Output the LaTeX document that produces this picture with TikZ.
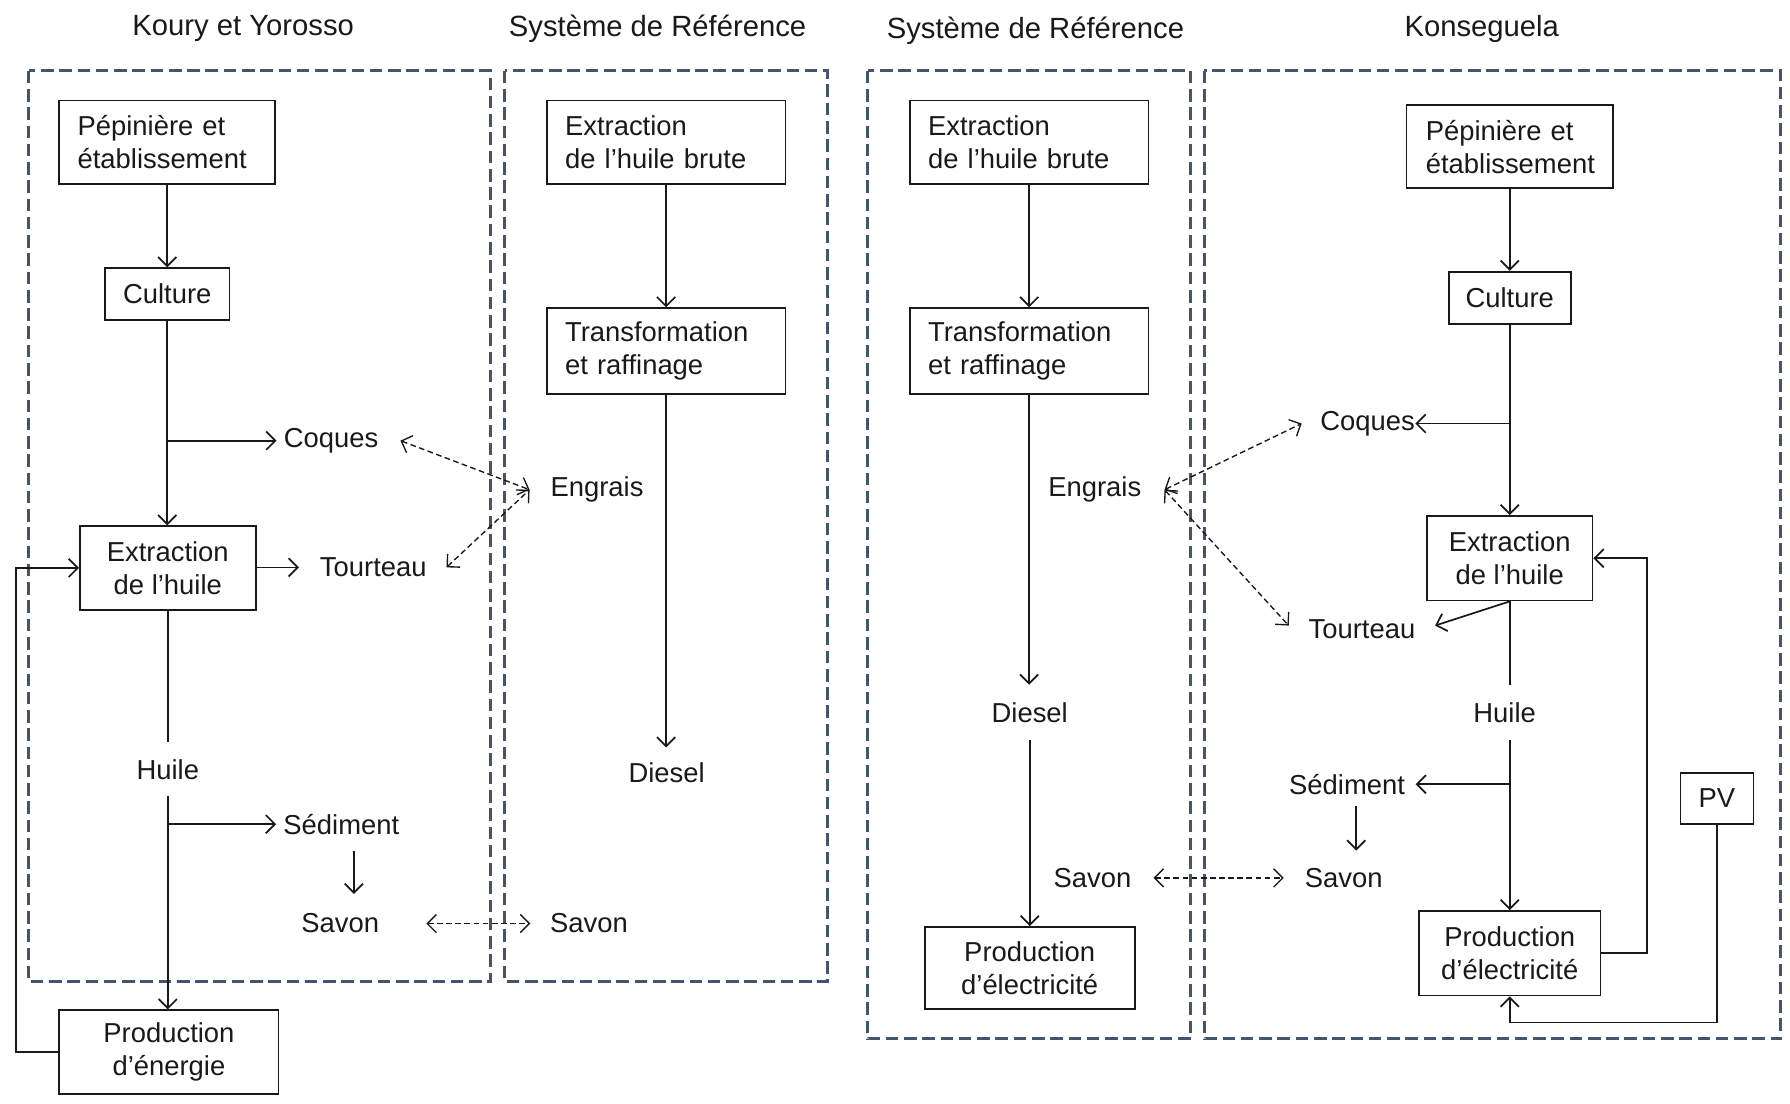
\documentclass[tikz,border=0pt]{standalone}
\usepackage{fontspec}
\setmainfont{Liberation Sans}
\usetikzlibrary{arrows.meta,calc}
\definecolor{boxblue}{RGB}{68,84,106}
\definecolor{ink}{RGB}{25,25,25}
\begin{document}
\begin{tikzpicture}[x=0.5pt,y=-0.5pt,
  font=\fontsize{12}{14.5}\selectfont,
  panel/.style={draw=boxblue, line width=1.3pt, dash pattern=on 5.5pt off 2.5pt},
  proc/.style={draw=ink, line width=0.8pt, inner ysep=0pt, minimum height=36.5pt, align=center, text=ink},
  procl/.style={proc, align=left, inner xsep=8pt},
  lbl/.style={inner sep=0pt, text=ink},
  ttl/.style={inner sep=0pt, text=ink, font=\fontsize{12.8}{14.5}\selectfont},
  flow/.style={draw=ink, line width=0.75pt, -{Straight Barb[length=4pt,width=8pt]}},
  plain/.style={draw=ink, line width=0.75pt},
  link/.style={draw=ink, line width=0.6pt, dash pattern=on 2.5pt off 1.5pt,
    {Straight Barb[length=4pt,width=8pt]}-{Straight Barb[length=4pt,width=8pt]}}
]
\useasboundingbox (0,0) rectangle (1568,967);

% panels
\draw[panel] (25,62) rectangle (430,860);
\draw[panel] (442,62) rectangle (725,860);
\draw[panel] (760,62) rectangle (1043,910);
\draw[panel] (1055,62) rectangle (1560,910);

% titles
\node[ttl] (t1) at (213,25) {Koury et Yorosso};
\node[ttl] (t2) at (576,25) {Système de Référence};
\node[ttl] (t3) at (907,27) {Système de Référence};
\node[ttl] (t4) at (1298,25) {Konseguela};

% ---------- panel 1
\node[procl, text width=78.5pt] (pep1) at (146.5,124.5) {Pépinière et\\établissement};
\node[proc, minimum width=54.5pt, minimum height=22.5pt] (cul1) at (146.5,257.5) {Culture};
\node[proc, minimum width=77pt] (ext1) at (147,497.5) {Extraction\\de l’huile};
\node[proc, minimum width=96pt] (prod1) at (148,921.5) {Production\\d’énergie};
\node[lbl] (coq1) at (290,386) {Coques};
\node[lbl] (tour1) at (327,497) {Tourteau};
\node[lbl] (huile1) at (147,674) {Huile};
\node[lbl] (sed1) at (299,722) {Sédiment};
\node[lbl] (sav1) at (298,809) {Savon};

\draw[flow] (pep1.south) -- (cul1.south |- pep1.south) -- (cul1.north);
\draw[flow] (cul1.south) -- (ext1.north -| cul1.south);
\draw[flow, shorten >=3pt] (cul1.south |- coq1) -- (coq1.west);
\draw[flow, shorten >=9pt] (ext1.east |- tour1) -- (tour1.west);
\draw[plain, shorten >=7.5pt] (ext1.south) -- (huile1.north);
\draw[flow, shorten <=7pt] (huile1.south) -- (huile1.south |- prod1.north);
\draw[flow, shorten >=3pt] (huile1 |- sed1) -- (sed1.west);
\draw[flow, shorten <=7pt, shorten >=8.5pt] ([xshift=5.5pt]sed1.south) -- ([xshift=6pt]sav1.north);
\draw[flow] (prod1.west) -- ++(-37,0) |- (ext1.west);

% ---------- panel 2
\node[procl, text width=88.5pt] (ex2) at (583.5,124.5) {Extraction\\de l’huile brute};
\node[procl, text width=88.5pt, minimum height=37.5pt] (tr2) at (583.5,307.5) {Transformation\\et raffinage};
\node[lbl] (eng2) at (523,429) {Engrais};
\node[lbl] (dies2) at (584,677) {Diesel};
\node[lbl] (sav2) at (516,809) {Savon};

\draw[flow] (ex2.south) -- (tr2.north);
\draw[flow, shorten >=6.5pt] (tr2.south) -- (tr2.south |- dies2.north);

\draw[link] ([xshift=9.5pt]coq1.east) -- ([xshift=-9pt]eng2.west);
\draw[link] ([xshift=8.5pt]tour1.east) -- ([xshift=-9pt]eng2.west);
\draw[link] ([xshift=20.5pt]sav1.east) -- ([xshift=-8.5pt]sav2.west);

% ---------- panel 3
\node[procl, text width=88.5pt] (ex3) at (901.5,124.5) {Extraction\\de l’huile brute};
\node[procl, text width=88.5pt, minimum height=37.5pt] (tr3) at (901.5,307.5) {Transformation\\et raffinage};
\node[lbl] (eng3) at (959,429) {Engrais};
\node[lbl] (dies3) at (902,624) {Diesel};
\node[lbl] (sav3) at (957,769) {Savon};
\node[proc, minimum width=92pt, minimum height=36pt] (prod3) at (902,848) {Production\\d’électricité};

\draw[flow] (ex3.south) -- (tr3.north);
\draw[flow, shorten >=7.5pt] (tr3.south) -- (tr3.south |- dies3.north);
\draw[flow, shorten <=7.5pt] (dies3.south) -- (prod3.north);

% ---------- panel 4
\node[procl, text width=73.5pt, inner xsep=8.5pt] (pep4) at (1322.5,128.5) {Pépinière et\\établissement};
\node[proc, minimum width=53.5pt, minimum height=23pt] (cul4) at (1322.5,261) {Culture};
\node[proc, minimum width=72.5pt, minimum height=37pt] (ext4) at (1322.5,489) {Extraction\\de l’huile};
\node[proc, minimum width=79.5pt, minimum height=37pt] (prod4) at (1322.5,835) {Production\\d’électricité};
\node[proc, minimum width=32pt, minimum height=22.5pt] (pv) at (1504,699.5) {PV};
\node[lbl] (coq4) at (1198,371) {Coques};
\node[lbl] (tour4) at (1193,551) {Tourteau};
\node[lbl] (huile4) at (1318,624) {Huile};
\node[lbl] (sed4) at (1180,687) {Sédiment};
\node[lbl] (sav4) at (1177,769) {Savon};

\draw[flow] (pep4.south) -- (cul4.north);
\draw[flow] (cul4.south) -- (ext4.north);
\draw[flow] (cul4.south |- coq4) -- (coq4.east);
\draw[flow] (ext4.south) -- ([xshift=8.5pt,yshift=1.5pt]tour4.east);
\draw[plain, shorten >=7.5pt] (ext4.south) -- (ext4.south |- huile4.north);
\draw[flow, shorten <=7.5pt] (ext4.south |- huile4.south) -- (prod4.north);
\draw[flow, shorten >=4.5pt] (ext4.south |- sed4) -- (sed4.east);
\draw[flow, shorten <=5pt, shorten >=7.5pt] ([xshift=4pt]sed4.south) -- ([xshift=5.5pt]sav4.north);
\draw[flow] (prod4.east) -- ++(40,0) |- (ext4.east);
\draw[flow] (pv.south) -- ++(0,173) -| (prod4.south);

\draw[link] ([xshift=10pt]eng3.east) -- ([xshift=-8pt]coq4.west);
\draw[link] ([xshift=10pt]eng3.east) -- ([xshift=-8.5pt,yshift=1.5pt]tour4.west);
\draw[link] ([xshift=9.5pt]sav3.east) -- ([xshift=-9pt]sav4.west);
\end{tikzpicture}
\end{document}
